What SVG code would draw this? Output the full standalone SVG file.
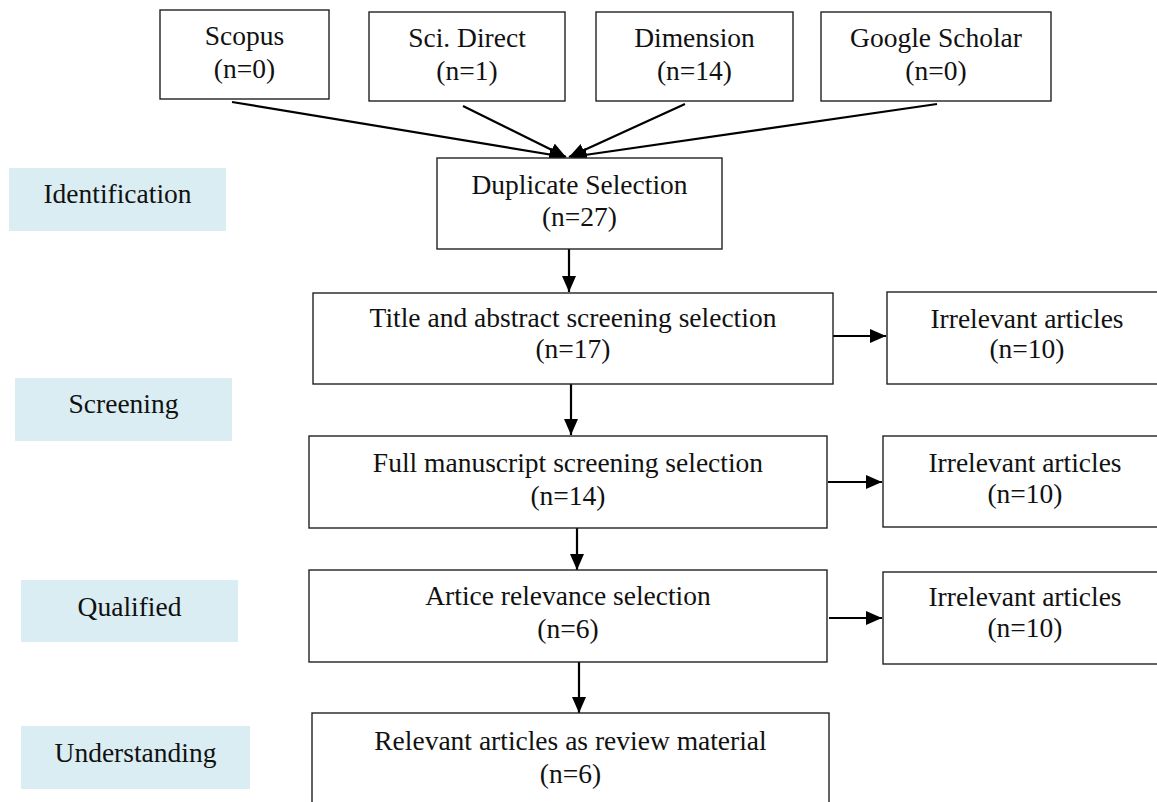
<svg xmlns="http://www.w3.org/2000/svg" width="1157" height="802" viewBox="0 0 1157 802">
<defs>
<marker id="ah" markerUnits="userSpaceOnUse" markerWidth="16" markerHeight="14" refX="16" refY="7" orient="auto">
<path d="M0,0 L16,7 L0,14 z" fill="#000"/>
</marker>
<style>
.box{fill:#fff;stroke:#222;stroke-width:1.4}
.lab{fill:#daedf3;stroke:none}
.t{font-family:"Liberation Serif","Times New Roman",serif;font-size:27.5px;fill:#111;text-anchor:middle}
.c{stroke:#000;stroke-width:2.2;fill:none;marker-end:url(#ah)}
</style>
</defs>
<rect width="1157" height="802" fill="#fff"/>

<g id="label-identification"><rect class="lab" x="9" y="168" width="217" height="63"/><text class="t" x="117.5" y="203">Identification</text></g>
<g id="label-screening"><rect class="lab" x="15" y="378" width="217" height="63"/><text class="t" x="123.5" y="413">Screening</text></g>
<g id="label-qualified"><rect class="lab" x="21" y="580" width="217" height="62"/><text class="t" x="129.5" y="616">Qualified</text></g>
<g id="label-understanding"><rect class="lab" x="21" y="726" width="229" height="63"/><text class="t" x="135.5" y="762">Understanding</text></g>

<g id="connectors">
<line class="c" x1="232" y1="102" x2="565" y2="157"/>
<line class="c" x1="463" y1="106" x2="566" y2="157"/>
<line class="c" x1="685" y1="104" x2="569" y2="157"/>
<line class="c" x1="937" y1="104" x2="571" y2="157"/>
<line class="c" x1="569" y1="249" x2="569" y2="292"/>
<line class="c" x1="833" y1="336" x2="886" y2="336"/>
<line class="c" x1="571" y1="384" x2="571" y2="435"/>
<line class="c" x1="828" y1="482" x2="882" y2="482"/>
<line class="c" x1="577" y1="528" x2="577" y2="570"/>
<line class="c" x1="829" y1="618" x2="882" y2="618"/>
<line class="c" x1="579" y1="662" x2="579" y2="713"/>
</g>

<g id="scopus"><rect class="box" x="160" y="10" width="169" height="89"/><text class="t" x="244.5" y="45">Scopus</text><text class="t" x="244.5" y="78">(n=0)</text></g>
<g id="scidirect"><rect class="box" x="369" y="12" width="196" height="89"/><text class="t" x="467" y="47">Sci. Direct</text><text class="t" x="467" y="80">(n=1)</text></g>
<g id="dimension"><rect class="box" x="596" y="12" width="197" height="89"/><text class="t" x="694.5" y="47">Dimension</text><text class="t" x="694.5" y="80">(n=14)</text></g>
<g id="scholar"><rect class="box" x="821" y="12" width="230" height="89"/><text class="t" x="936" y="47">Google Scholar</text><text class="t" x="936" y="80">(n=0)</text></g>

<g id="duplicate"><rect class="box" x="437" y="158" width="285" height="91"/><text class="t" x="579.5" y="194">Duplicate Selection</text><text class="t" x="579.5" y="226">(n=27)</text></g>
<g id="title"><rect class="box" x="313" y="293" width="520" height="91"/><text class="t" x="573" y="327">Title and abstract screening selection</text><text class="t" x="573" y="358">(n=17)</text></g>
<g id="irr1"><rect class="box" x="887" y="292" width="280" height="92"/><text class="t" x="1027" y="328">Irrelevant articles</text><text class="t" x="1027" y="358">(n=10)</text></g>
<g id="full"><rect class="box" x="309" y="436" width="518" height="92"/><text class="t" x="568" y="472">Full manuscript screening selection</text><text class="t" x="568" y="505">(n=14)</text></g>
<g id="irr2"><rect class="box" x="883" y="436" width="284" height="91"/><text class="t" x="1025" y="472">Irrelevant articles</text><text class="t" x="1025" y="503">(n=10)</text></g>
<g id="artice"><rect class="box" x="309" y="570" width="518" height="92"/><text class="t" x="568" y="605">Artice relevance selection</text><text class="t" x="568" y="638">(n=6)</text></g>
<g id="irr3"><rect class="box" x="883" y="572" width="284" height="92"/><text class="t" x="1025" y="606">Irrelevant articles</text><text class="t" x="1025" y="637">(n=10)</text></g>
<g id="relevant"><rect class="box" x="312" y="713" width="517" height="100"/><text class="t" x="570.5" y="750">Relevant articles as review material</text><text class="t" x="570.5" y="783">(n=6)</text></g>
</svg>
